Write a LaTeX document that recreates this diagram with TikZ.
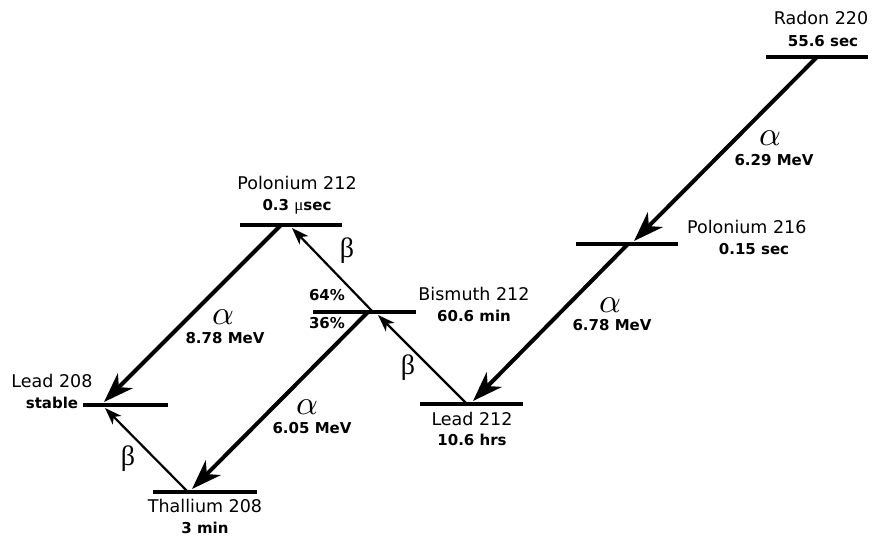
\documentclass[tikz,border=0pt]{standalone}
\usepackage{fontspec}
\setmainfont{DejaVu Sans}
\newfontfamily\grk{Liberation Serif}
\usetikzlibrary{arrows.meta}
\begin{document}
\begin{tikzpicture}[x=1pt,y=-1pt,
 level/.style={line width=4.5pt},
 adecay/.style={line width=4pt,-{Stealth[length=30pt,width=21pt,inset=9pt]}},
 bdecay/.style={line width=2.2pt,-{Stealth[length=17pt,width=12pt,inset=4.5pt]}},
 nuc/.style={font=\fontsize{17.5}{19}\selectfont, inner sep=0pt, text height=0.73em, text depth=0pt},
 life/.style={font=\fontsize{15}{17}\selectfont\bfseries, inner sep=0pt, text height=0.73em, text depth=0pt},
 alab/.style={font=\fontsize{10}{10}\selectfont, scale=3.4, inner sep=0pt, text height=0.43em, text depth=0pt},
 blab/.style={font=\fontsize{28}{28}\selectfont\grk, inner sep=0pt, text height=0.5em, text depth=0pt},
]
\useasboundingbox (0,0) rectangle (875,541);
% energy levels
\coordinate (rnL) at (766,57);  \coordinate (rnR) at (868,57);
\coordinate (poaL) at (576,244); \coordinate (poaR) at (678,244);
\coordinate (pobL) at (240,225); \coordinate (pobR) at (342,225);
\coordinate (biL) at (313,312);  \coordinate (biR) at (416,312);
\coordinate (pbaL) at (420,404); \coordinate (pbaR) at (523,404);
\coordinate (pbbL) at (83,405);  \coordinate (pbbR) at (168,405);
\coordinate (tlL) at (153,492);  \coordinate (tlR) at (257,492);
\draw[level] (rnL) -- (rnR);
\draw[level] (poaL) -- (poaR);
\draw[level] (pobL) -- (pobR);
\draw[level] (biL) -- (biR);
\draw[level] (pbaL) -- (pbaR);
\draw[level] (pbbL) -- (pbbR);
\draw[level] (tlL) -- (tlR);
% decay points
\coordinate (rnS) at (817,57);   \coordinate (poaT) at (634,241);
\coordinate (poaS) at (628,244); \coordinate (pbaT) at (473,401);
\coordinate (pobS) at (281,225); \coordinate (pbbTa) at (104,402);
\coordinate (biSa) at (368,312); \coordinate (tlT) at (192,489);
\coordinate (pbaS) at (467,404); \coordinate (biT) at (378,315);
\coordinate (biSb) at (373,312); \coordinate (pobT) at (292,228);
\coordinate (tlS) at (188,492);  \coordinate (pbbTb) at (105,408);
\draw[adecay] (rnS) -- (poaT);
\draw[adecay] (poaS) -- (pbaT);
\draw[adecay] (pobS) -- (pbbTa);
\draw[adecay] (biSa) -- (tlT);
\draw[bdecay] (pbaS) -- (biT);
\draw[bdecay] (biSb) -- (pobT);
\draw[bdecay] (tlS) -- (pbbTb);
% labels
\node[nuc] (rnN) at (821,21) {Radon 220};
\node[life] (rnH) at (823,43) {55.6 sec};
\node[nuc,anchor=west] (poaN) at (687,230) {Polonium 216};
\node[life] (poaH) at (754,251) {0.15 sec};
\node[nuc] (pobN) at (297,186) {Polonium 212};
\node[life] (pobH) at (297,207) {0.3 {\grk\mdseries\fontsize{17}{17}\selectfont μ}sec};
\node[nuc] (biN) at (474,297) {Bismuth 212};
\node[life] (biH) at (474,318) {60.6 min};
\node[life] (p64) at (327,297) {64\%};
\node[life] (p36) at (327,325) {36\%};
\node[nuc] (pbaN) at (472,422) {Lead 212};
\node[life] (pbaH) at (472,442) {10.6 hrs};
\node[nuc] (pbbN) at (52,384) {Lead 208};
\node[life] (pbbH) at (52,405) {stable};
\node[nuc] (tlN) at (205,509) {Thallium 208};
\node[life] (tlH) at (205,530) {3 min};
% decay labels
\node[alab] (a1) at (770,138) {$\alpha$};
\node[life] (e1) at (774,162) {6.29 MeV};
\node[alab] (a2) at (610,305) {$\alpha$};
\node[life] (e2) at (612,327) {6.78 MeV};
\node[alab] (a3) at (223,317) {$\alpha$};
\node[life] (e3) at (225,340) {8.78 MeV};
\node[alab] (a4) at (307,407) {$\alpha$};
\node[life] (e4) at (312,430) {6.05 MeV};
\node[blab] (b1) at (347,255) {β};
\node[blab] (b2) at (408,372) {β};
\node[blab] (b3) at (128,463) {β};
\end{tikzpicture}
\end{document}
